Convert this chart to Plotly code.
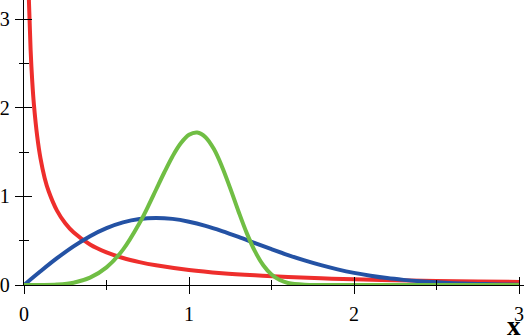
import plotly.graph_objects as go

# Red curve (decreasing, unbounded at 0)
red_x = [0.02, 0.03, 0.04, 0.05, 0.06, 0.08, 0.10, 0.125, 0.15, 0.20, 0.25, 0.30, 0.40, 0.50,
         0.60, 0.70, 0.80, 1.00, 1.20, 1.40, 1.60, 1.80, 2.00, 2.25, 2.50, 2.75, 3.00]
red_y = [4.09, 3.20, 2.66, 2.30, 2.04, 1.68, 1.43, 1.21, 1.056, 0.84, 0.697, 0.595, 0.457, 0.368,
         0.305, 0.259, 0.223, 0.170, 0.134, 0.109, 0.090, 0.075, 0.064, 0.054, 0.046, 0.040, 0.035]

# Blue curve (broad hump)
blue_x = [0.0, 0.1, 0.2, 0.3, 0.4, 0.5, 0.6, 0.7, 0.8, 0.9, 1.0, 1.1, 1.2, 1.3, 1.4, 1.5,
          1.6, 1.7, 1.8, 1.9, 2.0, 2.1, 2.2, 2.3, 2.4, 2.5, 2.6, 2.7, 2.8, 2.9, 3.0]
blue_y = [0.0, 0.155, 0.303, 0.437, 0.552, 0.643, 0.708, 0.746, 0.758, 0.747, 0.715, 0.668,
          0.609, 0.543, 0.473, 0.404, 0.338, 0.278, 0.224, 0.177, 0.137, 0.105, 0.078, 0.058,
          0.042, 0.030, 0.021, 0.014, 0.010, 0.006, 0.004]

# Green curve (narrow peak)
green_x = [0.0, 0.1, 0.2, 0.3, 0.4, 0.5, 0.6, 0.7, 0.75, 0.8, 0.85, 0.9, 0.95, 1.0, 1.05,
           1.1, 1.15, 1.2, 1.25, 1.3, 1.35, 1.4, 1.45, 1.5, 1.55, 1.6, 1.7, 1.8, 1.9, 2.0,
           2.5, 3.0]
green_y = [0.0, 0.0003, 0.005, 0.026, 0.083, 0.199, 0.400, 0.700, 0.881, 1.076, 1.271, 1.453,
           1.601, 1.697, 1.723, 1.670, 1.538, 1.337, 1.092, 0.831, 0.586, 0.379, 0.223, 0.118,
           0.056, 0.023, 0.003, 0.0002, 0.0, 0.0, 0.0, 0.0]

x_ticks = [0, 1, 2, 3]
y_ticks = [0, 1, 2, 3]
x_range = [0, 3.03]
y_range = [0, 3.22]

RED = "rgb(238,46,44)"
BLUE = "rgb(36,82,164)"
GREEN = "rgb(112,190,68)"
FONT = "'Liberation Serif', 'Times New Roman', Times, serif"
TICKFONT = dict(family=FONT, size=20, color="black")

fig = go.Figure()
for xs, ys, col in [(red_x, red_y, RED), (blue_x, blue_y, BLUE), (green_x, green_y, GREEN)]:
    fig.add_trace(go.Scatter(x=xs, y=ys, mode="lines",
                             line=dict(color=col, width=4, shape="spline", smoothing=1),
                             showlegend=False, hoverinfo="skip"))

# dummy trace to carry the overlay axes (inside halves of crossing ticks)
fig.add_trace(go.Scatter(x=[None], y=[None], xaxis="x2", yaxis="y2",
                         showlegend=False, hoverinfo="skip"))

axis_common = dict(showgrid=False, zeroline=False, linecolor="black", tickcolor="black",
                   automargin=False, ticklabeloverflow="allow")

fig.update_layout(
    width=524, height=336,
    margin=dict(l=24, r=0, t=0, b=51),
    paper_bgcolor="white", plot_bgcolor="white",
    xaxis=dict(range=x_range, tickvals=x_ticks, ticks="outside", ticklen=8, tickwidth=1.3,
               showline=True, linewidth=1.3, showticklabels=False,
               minor=dict(dtick=0.5, tick0=0, ticks="outside", ticklen=4, tickwidth=1.1,
                          tickcolor="black", showgrid=False),
               **axis_common),
    yaxis=dict(range=y_range, tickvals=y_ticks, ticks="outside", ticklen=8, tickwidth=1.3,
               showline=True, linewidth=1.3,
               minor=dict(dtick=0.5, tick0=0, ticks="outside", ticklen=4, tickwidth=1.1,
                          tickcolor="black", showgrid=False),
               tickfont=TICKFONT, ticklabelstandoff=1, **axis_common),
    xaxis2=dict(range=x_range, overlaying="x", anchor="y2", side="bottom",
                tickvals=x_ticks, ticks="inside", ticklen=8, tickwidth=1.3,
                showticklabels=True, showline=False, tickfont=TICKFONT, ticklabelstandoff=15,
                minor=dict(dtick=0.5, tick0=0, ticks="inside", ticklen=5, tickwidth=1.1,
                           tickcolor="black", showgrid=False),
                **axis_common),
    yaxis2=dict(range=y_range, overlaying="y", anchor="x2", side="left",
                tickvals=y_ticks, ticks="inside", ticklen=8, tickwidth=1.3,
                showticklabels=False, showline=False,
                minor=dict(dtick=0.5, tick0=0, ticks="inside", ticklen=5, tickwidth=1.1,
                           tickcolor="black", showgrid=False),
                **axis_common),
    annotations=[dict(text="<b>x</b>", xref="paper", yref="paper", x=0.98, y=-0.144,
                      xanchor="center", yanchor="middle", showarrow=False,
                      font=dict(family=FONT, size=27, color="black"))],
)

fig.write_html("out.html")
